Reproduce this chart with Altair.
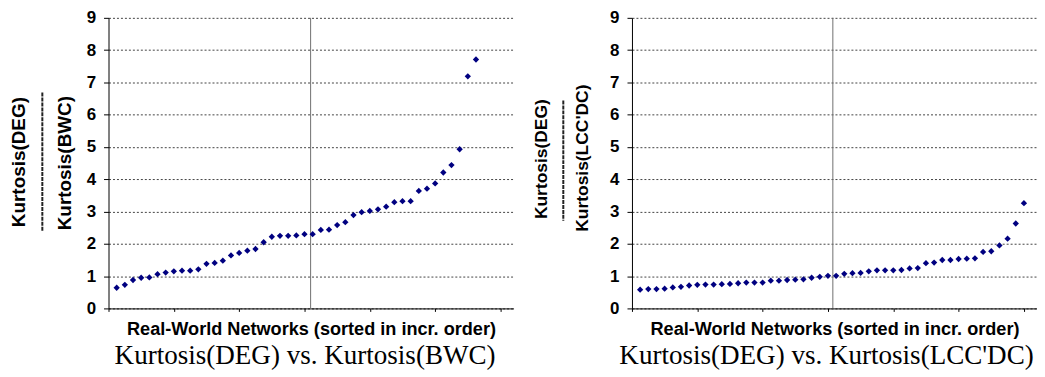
import altair as alt
import pandas as pd

# Kurtosis(DEG) / Kurtosis(BWC), sorted
bwc_ratio = [0.64, 0.73, 0.88, 0.95, 0.96, 1.06, 1.11, 1.15, 1.17, 1.17,
             1.21, 1.38, 1.41, 1.48, 1.64, 1.72, 1.79, 1.84, 2.05, 2.22,
             2.25, 2.25, 2.26, 2.30, 2.30, 2.43, 2.44, 2.58, 2.67, 2.89,
             2.98, 3.02, 3.07, 3.15, 3.29, 3.32, 3.32, 3.64, 3.71, 3.87,
             4.21, 4.44, 4.93, 7.19, 7.71]
# Kurtosis(DEG) / Kurtosis(LCC'DC), sorted
lcc_ratio = [0.58, 0.60, 0.60, 0.61, 0.65, 0.67, 0.71, 0.73, 0.74, 0.74,
             0.75, 0.76, 0.78, 0.80, 0.80, 0.80, 0.86, 0.86, 0.88, 0.89,
             0.90, 0.95, 0.98, 1.01, 1.01, 1.07, 1.09, 1.10, 1.15, 1.18,
             1.18, 1.18, 1.19, 1.24, 1.25, 1.40, 1.42, 1.50, 1.50, 1.53,
             1.54, 1.55, 1.75, 1.77, 1.95, 2.16, 2.63, 3.26]
bwc_divider = 24.75
lcc_divider = 24.6
y_ticks = [0, 1, 2, 3, 4, 5, 6, 7, 8, 9]
x_ticks = list(range(0, 50))
x_title = "Real-World Networks (sorted in incr. order)"

SANS = "Liberation Sans"
SERIF = "Liberation Serif"
W, H = 407, 292
X_MAX = 49.6


def panel(values, divider, numer, denom, caption, num_size, den_size,
          num_pos, bar_pos, den_pos, cap_dx):
    df = pd.DataFrame({"network": list(range(1, len(values) + 1)), "ratio": values})
    xs = alt.Scale(domain=[0, X_MAX], nice=False, zero=False)
    x = alt.X("network:Q", scale=xs,
              axis=alt.Axis(values=x_ticks, labels=False, grid=False, tickSize=3,
                            tickColor="black", domainColor="black", tickWidth=1,
                            title=x_title, titleFont=SANS, titleFontSize=18.2,
                            titleFontWeight="bold", titleColor="black", titlePadding=9))
    y = alt.Y("ratio:Q", scale=alt.Scale(domain=[0, 9], nice=False),
              axis=alt.Axis(values=y_ticks, title=None, labelFont=SANS, labelFontSize=17,
                            labelFontWeight="bold", labelColor="black", labelPadding=8,
                            tickSize=5, tickColor="black", domainColor="black",
                            grid=True, gridColor="#444444", gridDash=[2, 2], gridWidth=1))
    pts = alt.Chart(df).mark_point(shape="diamond", filled=True, size=40,
                                   color="#000080", opacity=1).encode(x=x, y=y)
    div = alt.Chart(pd.DataFrame({"network": [divider]})).mark_rule(
        color="#707070", strokeWidth=1).encode(x=alt.X("network:Q", scale=xs))
    num = alt.Chart(pd.DataFrame({"t": [numer]})).mark_text(
        angle=270, font=SANS, fontSize=num_size, fontWeight="bold", color="black",
        align="center", baseline="middle").encode(
        x=alt.value(num_pos[0]), y=alt.value(num_pos[1]), text="t:N")
    den = alt.Chart(pd.DataFrame({"t": [denom]})).mark_text(
        angle=270, font=SANS, fontSize=den_size, fontWeight="bold", color="black",
        align="center", baseline="middle").encode(
        x=alt.value(den_pos[0]), y=alt.value(den_pos[1]), text="t:N")
    bar = alt.Chart(pd.DataFrame({"a": [0]})).mark_rule(
        color="#222222", strokeWidth=2, strokeDash=[4, 1]).encode(
        x=alt.value(bar_pos[0]), y=alt.value(bar_pos[1]), y2=alt.value(bar_pos[2]))
    return alt.layer(div, pts, num, bar, den).properties(
        width=W, height=H,
        title=alt.TitleParams(caption, orient="bottom", anchor="middle", font=SERIF,
                              fontSize=27.2, fontWeight="normal", color="black",
                              offset=5, dx=cap_dx))


left = panel(bwc_ratio, bwc_divider, "Kurtosis(DEG)", "Kurtosis(BWC)",
             "Kurtosis(DEG) vs. Kurtosis(BWC)", 19, 19,
             (-89.5, 145), (-66.5, 75, 215), (-43.5, 146), -6)
right = panel(lcc_ratio, lcc_divider, "Kurtosis(DEG)", "Kurtosis(LCC'DC)",
              "Kurtosis(DEG) vs. Kurtosis(LCC'DC)", 17.5, 17.5,
              (-90.5, 142), (-69, 83, 204), (-49, 141), -8)

chart = alt.hconcat(left, right, spacing=119, bounds="flush").properties(
    padding={"left": 2, "top": 0, "right": 0, "bottom": 0}
).configure_view(strokeOpacity=0)

chart.save("out.html", embed_options={"renderer": "svg", "actions": False})
